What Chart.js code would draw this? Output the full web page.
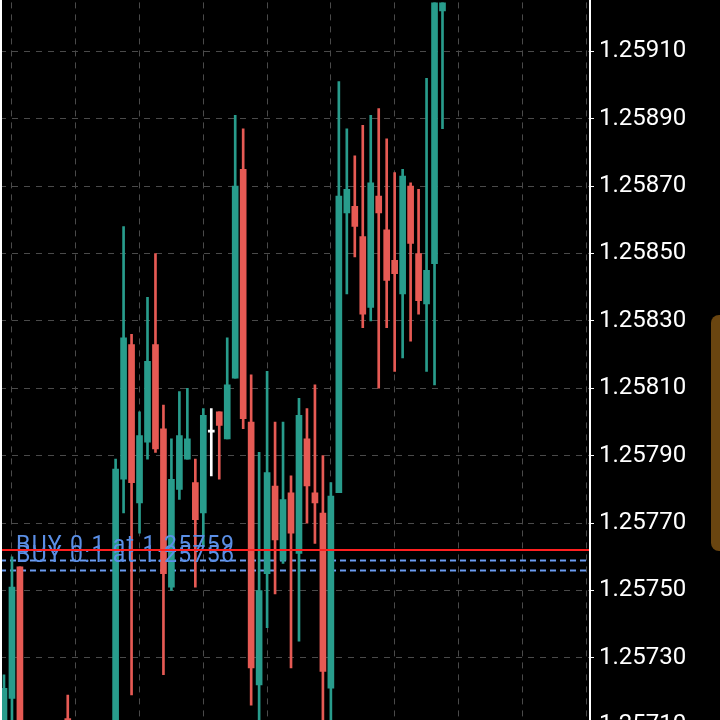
<!DOCTYPE html>
<html><head><meta charset="utf-8">
<script src="https://cdn.jsdelivr.net/npm/chart.js@4.4.1/dist/chart.umd.min.js"></script>
<style>html,body{margin:0;padding:0;background:#000;overflow:hidden;}#wrap{position:absolute;left:0;top:-17px;width:720px;height:758px;}</style>
</head><body><div id="wrap"><canvas id="c"></canvas></div>
<script>
// candle index 0..55 (visible ones), null = outside the view
const opens  = [1.25700,1.25718,1.25757,null,null,null,null,null,1.25712,null,null,null,null,null,1.25700,
  1.25783,1.25823,1.25776,1.25794,1.25823,1.25798,1.25751,1.25780,1.25789,1.25782,1.25773,1.25797,1.25803,1.25795,1.25813,
  1.25875,1.25800,1.25722,1.25755,1.25781,1.25759,1.25779,1.25761,1.25795,1.25779,1.25773,1.25721,1.25779,1.25862,1.25864,
  1.25855,1.25834,1.25867,1.25857,1.25848,1.25838,1.25870,1.25850,1.25835,1.25847,1.25922];
const closes = [1.25721,1.25751,1.25700,null,null,null,null,null,1.25700,null,null,null,null,null,1.25786,
  1.25825,1.25782,1.25796,1.25818,1.25792,1.25755,1.25783,1.25796,1.25795,1.25771,1.25802,1.25797,1.25799,1.25811,1.25870,
  1.25801,1.25727,1.25750,1.25785,1.25765,1.25777,1.25767,1.25802,1.25781,1.25776,1.25726,1.25778,1.25867,1.25869,1.25858,
  1.25832,1.25871,1.25862,1.25842,1.25844,1.25873,1.25853,1.25836,1.25845,1.25928,1.25935];
const highs  = [1.25725,1.25760,1.25757,null,null,null,null,null,1.25719,null,null,null,null,null,1.25789,
  1.25858,1.25826,1.25803,1.25837,1.25850,1.25805,1.25795,1.25809,1.25810,1.25789,1.25804,1.25804,1.25803,1.25825,1.25891,
  1.25887,1.25814,1.25791,1.25815,1.25800,1.25800,1.25784,1.25807,1.25804,1.25811,1.25790,1.25782,1.25901,1.25887,1.25879,
  1.25888,1.25891,1.25893,1.25884,1.25874,1.25875,1.25871,1.25869,1.25902,1.25935,1.25940];
const lows   = [1.25700,1.25700,1.25700,null,null,null,null,null,1.25700,null,null,null,null,null,1.25700,
  1.25773,1.25719,1.25767,1.25789,1.25791,1.25725,1.25750,1.25777,1.25789,1.25751,1.25763,1.25784,1.25783,1.25795,1.25813,
  1.25798,1.25716,1.25705,1.25739,1.25749,1.25758,1.25727,1.25735,1.25770,1.25764,1.25705,1.25705,1.25779,1.25838,1.25849,
  1.25828,1.25830,1.25810,1.25828,1.25815,1.25819,1.25824,1.25832,1.25815,1.25811,1.25887];
const priceTicks = [1.25710,1.25730,1.25750,1.25770,1.25790,1.25810,1.25830,1.25850,1.25870,1.25890,1.25910];
const tickLabels = ["1.25710","1.25730","1.25750","1.25770","1.25790","1.25810","1.25830","1.25850","1.25870","1.25890","1.25910"];
const currentPrice = 1.25762;
const buyLevels = [1.25759, 1.25756];
const buyTexts = ["BUY 0.1 at 1.25759", "BUY 0.1 at 1.25756"];
const totalSlots = 74;

const GREEN = '#289c8c', RED = '#e65a54';
const labels = Array.from({length: totalSlots}, (_, i) => String(i));
const pad = a => labels.map((_, i) => i < a.length ? a[i] : null);
const O = pad(opens), C = pad(closes), H = pad(highs), L = pad(lows);
const bodies = O.map((o, i) => o == null ? null : [o, C[i]]);
const wicks = L.map((l, i) => l == null ? null : [l, H[i]]);
const col = O.map((o, i) => o == null ? GREEN : (C[i] > o ? GREEN : (C[i] < o ? RED : '#ffffff')));

const overlay = {
  id: 'overlay',
  beforeDatasetsDraw(chart) {
    const {ctx, chartArea: a, scales: {y}} = chart;
    ctx.save();
    ctx.setLineDash([6, 4]); ctx.lineWidth = 2; ctx.strokeStyle = '#6b9cf0';
    buyLevels.forEach(v => { const yy = Math.round(y.getPixelForValue(v)) + 0.5;
      ctx.beginPath(); ctx.moveTo(a.left, yy); ctx.lineTo(a.right, yy); ctx.stroke(); });
    ctx.restore();
  },
  afterDatasetsDraw(chart) {
    const {ctx, chartArea: a, scales: {y}} = chart;
    ctx.save();
    ctx.font = '23px Roboto'; ctx.fillStyle = '#5b8fe6'; ctx.textBaseline = 'alphabetic';
    ctx.letterSpacing = '1.3px';
    buyLevels.forEach((v, i) => ctx.fillText(buyTexts[i], 16, y.getPixelForValue(v) - 8));
    ctx.strokeStyle = '#ff2020'; ctx.lineWidth = 2;
    const ry = y.getPixelForValue(currentPrice);
    ctx.beginPath(); ctx.moveTo(a.left, ry); ctx.lineTo(a.right, ry); ctx.stroke();
    ctx.strokeStyle = '#ffffff'; ctx.lineWidth = 2;
    ctx.beginPath(); ctx.moveTo(1, 0); ctx.lineTo(1, 800); ctx.stroke();
    ctx.beginPath(); ctx.moveTo(a.right, 0); ctx.lineTo(a.right, 800); ctx.stroke();
    ctx.fillStyle = '#6a4510';
    ctx.beginPath(); ctx.roundRect(711, 332, 20, 236, 8); ctx.fill();
    ctx.restore();
  }
};

new Chart(document.getElementById('c'), {
  type: 'bar',
  data: { labels, datasets: [
    { data: wicks, backgroundColor: col, barThickness: 2, grouped: false, order: 2 },
    { data: bodies, backgroundColor: col, barThickness: 6, grouped: false, minBarLength: 2, order: 1 }
  ]},
  options: {
    responsive: true, maintainAspectRatio: false, animation: false,
    layout: { padding: 0 },
    plugins: { legend: { display: false }, tooltip: { enabled: false } },
    scales: {
      x: { offset: true, ticks: { display: false, autoSkip: false }, border: { display: false, dash: [6, 6] },
           grid: { offset: false, drawTicks: false, color: ctx => (ctx.index % 8 === 1 ? '#4a4a4a' : 'rgba(0,0,0,0)') },
           afterFit: s => { s.height = 0; } },
      y: { position: 'right', min: 1.257111, max: 1.259245,
           afterBuildTicks: s => { s.ticks = priceTicks.map(v => ({ value: v })); },
           ticks: { color: '#ffffff', font: { family: 'Roboto', size: 24 }, padding: 5,
                    callback: (v, i) => tickLabels[i] },
           grid: { color: '#4a4a4a', tickLength: 4, tickColor: '#ffffff' },
           border: { display: false, dash: [6, 6] },
           afterFit: s => { s.width = 130; } }
    }
  },
  plugins: [overlay]
});
</script></body></html>
